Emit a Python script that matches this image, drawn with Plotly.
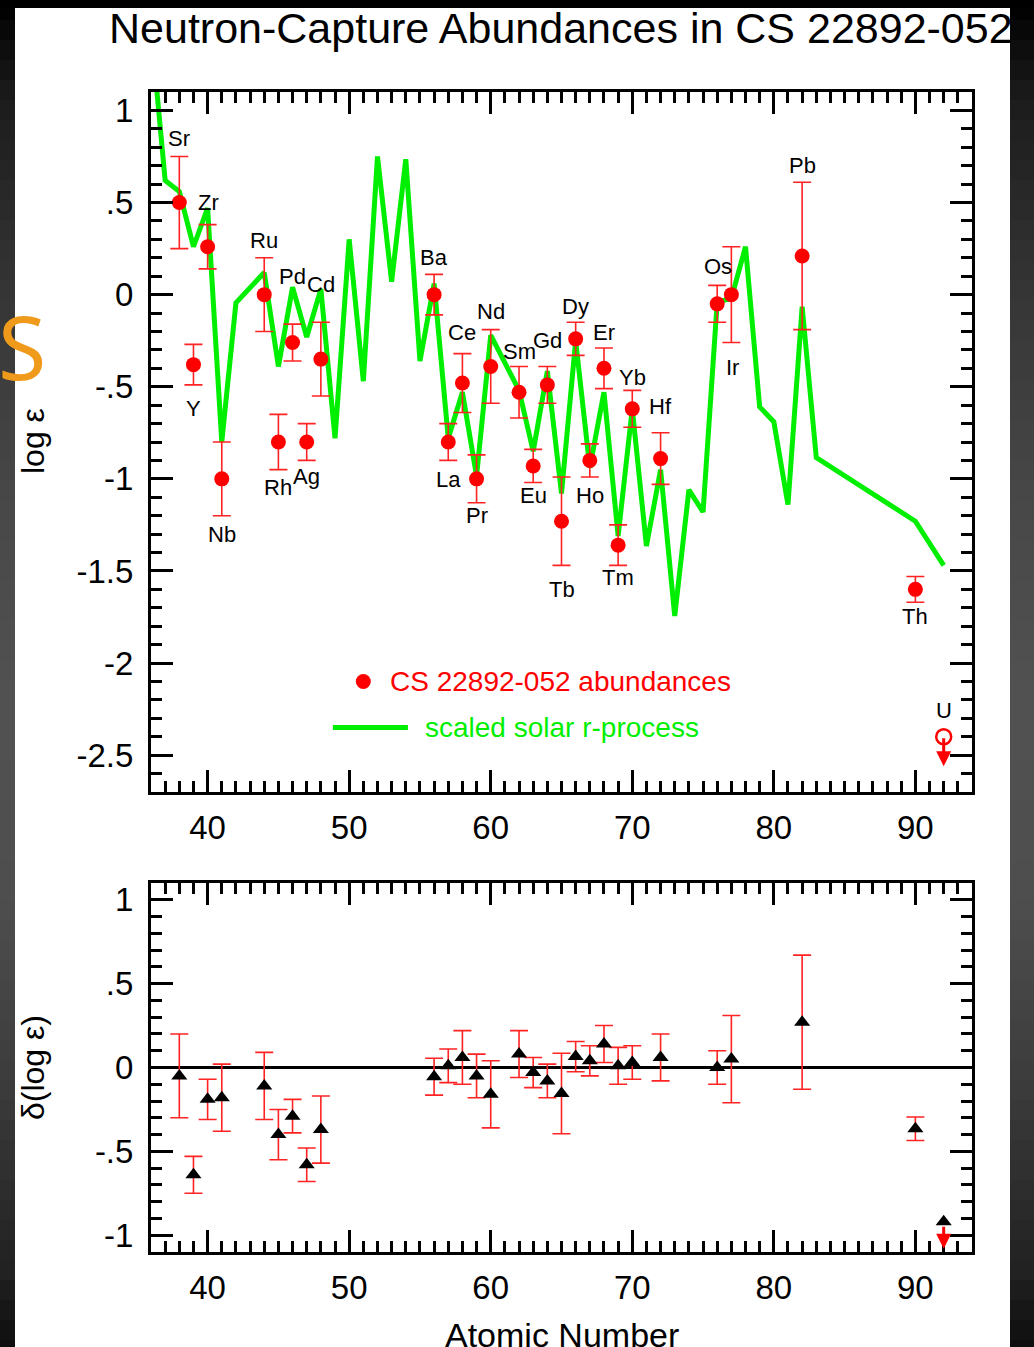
import numpy as np
import plotly.graph_objects as go

# ---------------- data ----------------
# observed neutron-capture elements (atomic number, log eps, 1-sigma error)
elements = ["Sr", "Y", "Zr", "Nb", "Ru", "Rh", "Pd", "Ag", "Cd", "Ba", "La", "Ce", "Pr", "Nd",
            "Sm", "Eu", "Gd", "Tb", "Dy", "Ho", "Er", "Tm", "Yb", "Hf", "Os", "Ir", "Pb", "Th"]
z_obs = [38, 39, 40, 41, 44, 45, 46, 47, 48, 56, 57, 58, 59, 60,
         62, 63, 64, 65, 66, 67, 68, 69, 70, 72, 76, 77, 82, 90]
log_eps = [0.50, -0.38, 0.26, -1.00, 0.00, -0.80, -0.26, -0.80, -0.35, 0.00, -0.80, -0.48, -1.00, -0.39,
           -0.53, -0.93, -0.49, -1.23, -0.24, -0.90, -0.40, -1.36, -0.62, -0.89, -0.05, 0.00, 0.21, -1.60]
log_eps_err = [0.25, 0.11, 0.12, 0.20, 0.20, 0.15, 0.10, 0.10, 0.20, 0.11, 0.10, 0.16, 0.13, 0.20,
               0.14, 0.09, 0.10, 0.24, 0.09, 0.09, 0.11, 0.11, 0.10, 0.14, 0.10, 0.26, 0.40, 0.07]

# residuals relative to the scaled solar r-process curve
delta_log_eps = [-0.05, -0.64, -0.19, -0.18, -0.11, -0.40, -0.29, -0.58, -0.37, -0.055, 0.01, 0.06, -0.05, -0.16,
                 0.08, -0.03, -0.08, -0.155, 0.065, 0.04, 0.14, 0.01, 0.03, 0.06, 0.00, 0.05, 0.27, -0.365]

# uranium upper limit
u_z = [92]
u_log_eps = [-2.40]
u_log_eps_limit = [-2.56]
u_delta = [-0.92]
u_delta_limit = [-1.08]

# scaled solar-system r-process abundances
z_solar = [36, 37, 38, 39, 40, 41, 42, 44, 45, 46, 47, 48, 49, 50, 51, 52, 53, 54, 55, 56, 57, 58,
           59, 60, 62, 63, 64, 65, 66, 67, 68, 69, 70, 71, 72, 73, 74, 75, 76, 77, 78, 79, 80, 81,
           82, 83, 90, 92]
solar_r = [1.45, 0.62, 0.56, 0.26, 0.47, -0.80, -0.045, 0.12, -0.39, 0.04, -0.23, 0.03, -0.78, 0.30,
           -0.47, 0.75, 0.07, 0.735, -0.36, 0.06, -0.78, -0.53, -0.985, -0.22, -0.52, -0.85, -0.415,
           -1.08, -0.25, -0.94, -0.53, -1.31, -0.62, -1.365, -0.95, -1.745, -1.06, -1.18, -0.04,
           -0.02, 0.26, -0.61, -0.69, -1.14, -0.065, -0.885, -1.23, -1.47]

# element name labels (data coordinates of each label)
label_text = elements + ["U"]
label_z = [38, 39, 40.05, 41, 44, 44.95, 46, 47, 48, 56, 57.05, 58, 59, 60,
           62, 63, 64, 65, 66, 67, 68, 69, 70, 72, 76.05, 77.1, 82.05, 90, 92]
label_y = [0.846, -0.62, 0.50, -1.30, 0.294, -1.046, 0.098, -0.99, 0.054, 0.202, -1.003, -0.203, -1.198, -0.09,
           -0.31, -1.09, -0.248, -1.60, -0.063, -1.09, -0.206, -1.536, -0.45, -0.61, 0.153, -0.393, 0.70, -1.748,
           -2.255]

x_ticks = [40, 50, 60, 70, 80, 90]
y1_ticks = [1, 0.5, 0, -0.5, -1, -1.5, -2, -2.5]
y1_ticktext = ["1", ".5", "0", "-.5", "-1", "-1.5", "-2", "-2.5"]
y2_ticks = [1, 0.5, 0, -0.5, -1]
y2_ticktext = ["1", ".5", "0", "-.5", "-1"]

# ---------------- styling ----------------
W, H = 1034, 1347
FONT = "Liberation Sans, Arial, Helvetica, sans-serif"
RED = "#ff0000"
ERR_RED = "rgb(255,35,35)"
GREEN = "#00ee00"


def fx(px):
    return px / W


def fy(px):
    return 1 - px / H


fig = go.Figure()

# solar r-process curve
fig.add_trace(go.Scatter(x=z_solar, y=solar_r, mode="lines",
                         line=dict(color=GREEN, width=5),
                         xaxis="x", yaxis="y", hoverinfo="skip"))

# stellar abundances
fig.add_trace(go.Scatter(x=z_obs, y=log_eps, mode="markers",
                         marker=dict(color=RED, size=15, symbol="circle"),
                         error_y=dict(type="data", array=log_eps_err, symmetric=True,
                                      color=ERR_RED, thickness=1.6, width=9),
                         xaxis="x", yaxis="y"))

# uranium upper limit (open symbol)
fig.add_trace(go.Scatter(x=u_z, y=u_log_eps, mode="markers",
                         marker=dict(color=RED, size=15, symbol="circle-open", line=dict(width=2.5, color=RED)),
                         xaxis="x", yaxis="y"))

# legend symbol for the abundances
fig.add_trace(go.Scatter(x=[51.0], y=[-2.10], mode="markers",
                         marker=dict(color=RED, size=15), xaxis="x", yaxis="y"))

# residuals
fig.add_trace(go.Scatter(x=z_obs, y=delta_log_eps, mode="markers",
                         marker=dict(color="black", size=14, symbol="triangle-up"),
                         error_y=dict(type="data", array=log_eps_err, symmetric=True,
                                      color=ERR_RED, thickness=1.6, width=9),
                         xaxis="x2", yaxis="y2"))
fig.add_trace(go.Scatter(x=u_z, y=u_delta, mode="markers",
                         marker=dict(color="black", size=14, symbol="triangle-up"),
                         xaxis="x2", yaxis="y2"))

axis_common = dict(
    range=[36, 94], tickmode="array", tickvals=x_ticks, ticks="inside", ticklen=22, tickwidth=3,
    tickcolor="black", showline=True, linewidth=3, linecolor="black", mirror="ticks",
    showgrid=False, zeroline=False, tickfont=dict(family=FONT, size=33, color="black"),
    minor=dict(ticks="inside", ticklen=11, tickwidth=3, tickcolor="black", tickmode="linear",
               tick0=0, dtick=1, showgrid=False),
    domain=[fx(151), fx(972)], ticklabelstandoff=4, automargin=False,
)

yaxis_common = dict(
    ticks="inside", ticklen=22, tickwidth=3, tickcolor="black", showline=True, linewidth=3,
    linecolor="black", mirror="ticks", showgrid=False, tickmode="array",
    tickfont=dict(family=FONT, size=33, color="black"),
    minor=dict(ticks="inside", ticklen=11, tickwidth=3, tickcolor="black", tickmode="linear",
               tick0=0, dtick=0.1, showgrid=False),
    ticklabelstandoff=8, automargin=False,
)

fig.update_layout(
    width=W, height=H,
    margin=dict(l=0, r=0, t=0, b=0),
    paper_bgcolor="#000000",
    plot_bgcolor="white",
    showlegend=False,
    xaxis=dict(axis_common, anchor="y"),
    xaxis2=dict(axis_common, anchor="y2", matches="x"),
    yaxis=dict(yaxis_common, range=[-2.7, 1.1], tickvals=y1_ticks, ticktext=y1_ticktext,
               zeroline=False, domain=[fy(792), fy(92)], anchor="x"),
    yaxis2=dict(yaxis_common, range=[-1.1, 1.1], tickvals=y2_ticks, ticktext=y2_ticktext,
                zeroline=True, zerolinecolor="black", zerolinewidth=3,
                domain=[fy(1252), fy(883)], anchor="x2"),
)

# ---------------- background frame ----------------
shapes = []
shapes.append(dict(type="rect", xref="paper", yref="paper", x0=fx(15), x1=fx(1010), y0=0, y1=fy(8),
                   fillcolor="white", line=dict(width=0), layer="below"))
band_y = np.arange(0, H, 20)
prof_y = [0, 100, 300, 500, 700, 900, 1100, 1270, 1347]
prof_v = [0, 28, 55, 72, 82, 78, 58, 34, 14]
for y0 in band_y:
    g = int(np.interp(y0 + 10, prof_y, prof_v))
    col = f"rgb({g},{g},{g})"
    for xa, xb in ((0, 15), (1010, W)):
        shapes.append(dict(type="rect", xref="paper", yref="paper", x0=fx(xa), x1=fx(xb),
                           y0=fy(min(y0 + 21, H)), y1=fy(max(y0, 8)),
                           fillcolor=col, line=dict(width=0), layer="below"))

# legend line
shapes.append(dict(type="line", xref="x", yref="y", x0=48.85, x1=54.15, y0=-2.35, y1=-2.35,
                   line=dict(color=GREEN, width=5)))
fig.update_layout(shapes=shapes)

# ---------------- text ----------------
annotations = []
for t, zx, zy in zip(label_text, label_z, label_y):
    annotations.append(dict(x=zx, y=zy, xref="x", yref="y", text=t, showarrow=False,
                            font=dict(family=FONT, size=22, color="black")))

annotations += [
    dict(x=52.73, y=-2.10, xref="x", yref="y", text="CS 22892-052 abundances", showarrow=False,
         xanchor="left", font=dict(family=FONT, size=28, color=RED)),
    dict(x=55.2, y=-2.35, xref="x", yref="y", text="scaled solar r-process", showarrow=False,
         xanchor="left", font=dict(family=FONT, size=28, color=GREEN)),
    # upper-limit arrows for uranium
    dict(x=u_z[0], y=u_log_eps_limit[0], ax=u_z[0], ay=u_log_eps[0], xref="x", yref="y",
         axref="x", ayref="y", text="", showarrow=True, arrowhead=2, arrowsize=1,
         arrowwidth=3, arrowcolor=RED),
    dict(x=u_z[0], y=u_delta_limit[0], ax=u_z[0], ay=u_delta[0] - 0.02, xref="x2", yref="y2",
         axref="x2", ayref="y2", text="", showarrow=True, arrowhead=2, arrowsize=1,
         arrowwidth=3, arrowcolor=RED),
]

paper_text = [
    # (text, x px, y px, size, angle, family, colour)
    ("Neutron-Capture Abundances in CS 22892-052", 561, 28, 43, 0, FONT, "black"),
    ("Atomic Number", 562, 1335, 34, 0, FONT, "black"),
    ("log ε", 33, 441, 32, -90, FONT, "black"),
    ("δ(log ε)", 33, 1068, 32, -90, FONT, "black"),
    ("S", 22, 346, 88, 0, "Noto Sans, DejaVu Sans, sans-serif", "#f09a1c"),
]
for t, px, py, sz, ang, fam, colr in paper_text:
    annotations.append(dict(x=fx(px), y=fy(py), xref="paper", yref="paper", showarrow=False,
                            xanchor="center", yanchor="middle", textangle=ang, text=t,
                            font=dict(family=fam, size=sz, color=colr)))
fig.update_layout(annotations=annotations)

fig.write_html("out.html")
